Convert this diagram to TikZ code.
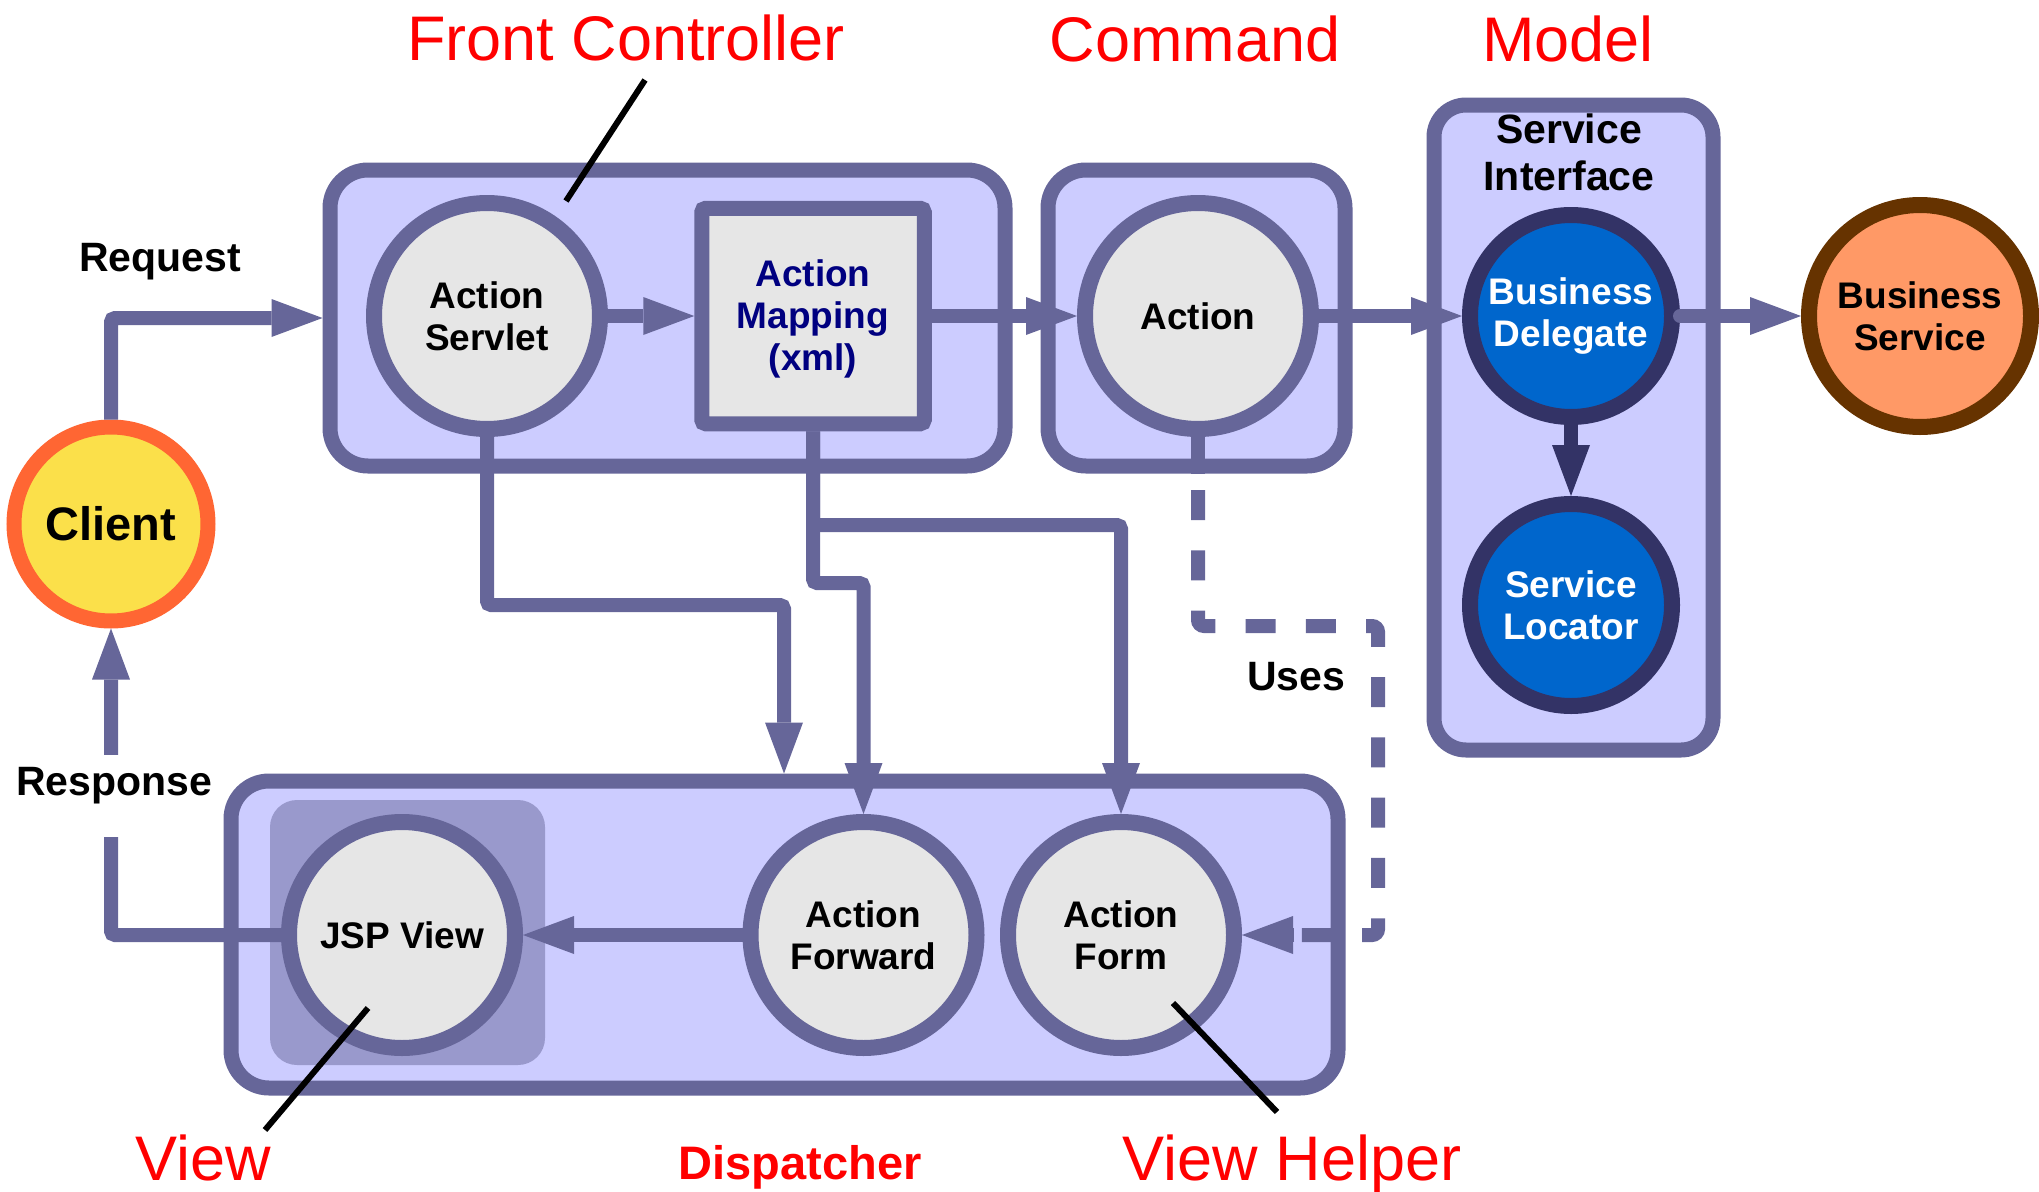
\documentclass[tikz,border=0pt]{standalone}
\usepackage{fontspec}
\setmainfont{Liberation Sans}
\usetikzlibrary{arrows.meta}

\definecolor{edge}{HTML}{666699}
\definecolor{panel}{HTML}{CCCCFF}
\definecolor{compfill}{HTML}{E6E6E6}
\definecolor{viewpanel}{HTML}{9999CC}
\definecolor{bizblue}{HTML}{0066CC}
\definecolor{bizring}{HTML}{333366}
\definecolor{svcfill}{HTML}{FF9966}
\definecolor{svcring}{HTML}{663300}
\definecolor{clientfill}{HTML}{FBE04A}
\definecolor{clientring}{HTML}{FF6633}
\definecolor{mapblue}{HTML}{000080}
\definecolor{tagred}{HTML}{FF0000}

\newcommand{\fsz}[2]{\fontsize{#1}{#2}\selectfont}

\begin{document}
\begin{tikzpicture}[x=1pt,y=-1pt,
  panelbox/.style={draw=edge, fill=panel, line width=15pt, rounded corners=38pt, inner sep=0pt},
  comp/.style={circle, draw=edge, fill=compfill, line width=16pt, inner sep=0pt,
    minimum size=226pt, align=center, font=\bfseries\fsz{37}{42}},
  mapbox/.style={rectangle, draw=edge, fill=compfill, line width=15pt, rounded corners=4pt,
    inner sep=0pt, minimum width=222.5pt, minimum height=215.5pt, align=center,
    text=mapblue, font=\bfseries\fsz{37}{42}},
  biz/.style={comp, draw=bizring, fill=bizblue, text=white, minimum size=202pt},
  conn/.style={draw=edge, line width=14pt, rounded corners=4pt},
  arr/.style={-{Triangle[length=51pt,width=38pt,line width=0pt]}},
  leader/.style={draw=black, line width=6pt},
  tag/.style={anchor=base, text=tagred, font=\fsz{63}{70}},
  flowlabel/.style={anchor=base, font=\bfseries\fsz{41}{47}}
]
\useasboundingbox (0,0) rectangle (2039,1191);

% layer panels
\node[panelbox, minimum width=675pt, minimum height=296pt] (fc) at (667.5,318) {};
\node[panelbox, minimum width=297pt, minimum height=296pt] (cmd) at (1196.5,318) {};
\node[panelbox, rounded corners=32pt, minimum width=279pt, minimum height=645pt] (model) at (1573.5,427.5) {};
\node[panelbox, minimum width=1107pt, minimum height=307pt] (disp) at (784.5,934.5) {};
\node[fill=viewpanel, rounded corners=27pt, inner sep=0pt, minimum width=275pt, minimum height=265pt] (viewbg) at (407.5,932.5) {};

% components
\node[comp] (servlet) at (487,316) {Action\\Servlet};
\node[mapbox] (mapping) at (813,316) {\rule{0pt}{33pt}Action\\Mapping\\(xml)};
\node[comp] (action) at (1198,316) {Action};
\node[biz] (bd) at (1571,316) {Business\\Delegate};
\node[biz] (sl) at (1571,605) {Service\\Locator};
\node[comp, draw=svcring, fill=svcfill, minimum size=222pt] (bsvc) at (1920,316) {Business\\Service};
\node[comp, draw=clientring, fill=clientfill, line width=15pt, minimum size=194pt,
  font=\bfseries\fsz{47}{52}] (client) at (111,524) {Client};
\node[comp] (jsp) at (402,935) {JSP View};
\node[comp] (fwd) at (863.5,935) {Action\\Forward};
\node[comp] (form) at (1121,935) {Action\\Form};

\node[font=\bfseries\fsz{41}{47}, align=center] (svcif) at (1569,152) {Service\\Interface};

% request / response flow
\draw[conn, arr] (client.north) |- (fc.west);
\node[flowlabel] (req) at (160,271) {Request};
\draw[conn, arr] (jsp.west) -| (client.south);
\node[flowlabel, fill=white, inner xsep=2pt, inner ysep=11pt, text height=29pt, text depth=31pt] (resp) at (114,795) {Response};

% front controller and command flow
\draw[conn, arr] (servlet.east) -- (mapping.west);
\draw[conn, arr] (mapping.east) -- (action.west);
\draw[conn, arr] (action.east) -- (bd.west);
\draw[conn, arr, line cap=round] (bd.east) -- (bsvc.west);
\draw[conn, draw=bizring, arr] (bd.south) -- (sl.north);

% dispatching
\coordinate (k1) at (784,605);
\coordinate (k2) at (863.5,583);
\coordinate (k3) at (1121,525);
\draw[conn, arr] (servlet.south) |- (k1) -- (k1 |- disp.north);
\draw[conn, arr] (mapping.south) |- (k2) -- (fwd.north);
\draw[conn, arr] (mapping.south) |- (k3) -- (form.north);
\draw[conn, arr] (fwd.west) -- (jsp.east);

% action uses the form
\coordinate (u0) at (action.south |- cmd.south);
\coordinate (u1) at (1378,626);
\coordinate (u2) at (1294,935);
\draw[conn] (action.south) -- (u0);
\draw[conn, dash pattern=on 30pt off 30.3pt, dash phase=43.8pt, rounded corners=6pt] (u0) |- (u1) |- (u2);
\draw[conn, arr] (u2) -- (form.east);
\node[flowlabel] (uses) at (1296,690) {Uses};

% pattern names
\node[tag] (tfc) at (626,60) {Front Controller};
\node[tag] (tcmd) at (1195,61) {Command};
\node[tag] (tmodel) at (1568,61) {Model};
\node[tag] (tview) at (203,1180) {View};
\node[tag] (thelper) at (1292,1180) {View Helper};
\node[anchor=base, text=tagred, font=\bfseries\fsz{47}{52}] (tdisp) at (800,1179) {Dispatcher};

\coordinate (fcA) at (645,80);
\coordinate (fcB) at (566,201);
\coordinate (vwA) at (265,1130);
\coordinate (vwB) at (368,1008);
\coordinate (vhA) at (1277,1112);
\coordinate (vhB) at (1173,1003);
\draw[leader] (fcA) -- (fcB);
\draw[leader] (vwA) -- (vwB);
\draw[leader] (vhA) -- (vhB);
\end{tikzpicture}
\end{document}
